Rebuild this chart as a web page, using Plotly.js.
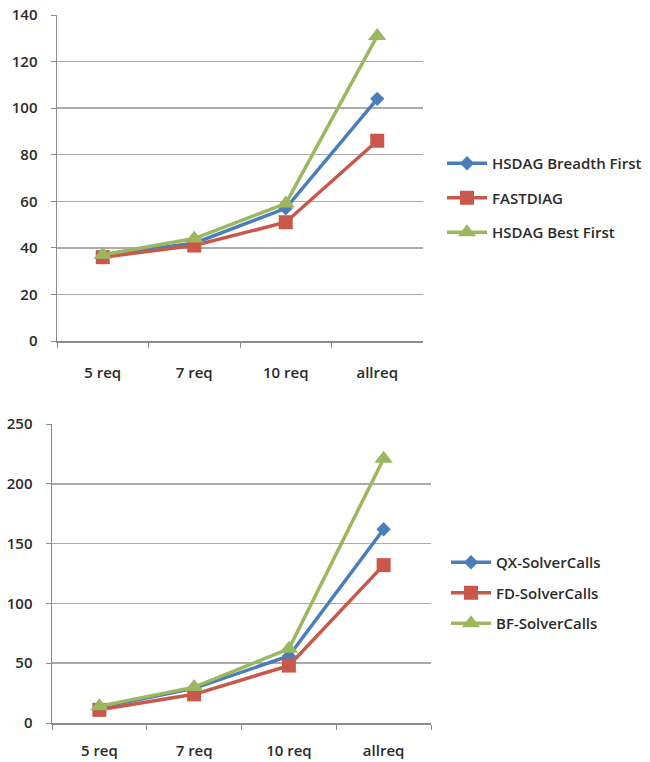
<!DOCTYPE html>
<html>
<head>
<meta charset="utf-8">
<script src="https://cdn.plot.ly/plotly-3.0.1.min.js"></script>
<style>html,body{margin:0;padding:0;background:#fff;}</style>
</head>
<body>
<div id="chart" style="width:650px;height:762px;"></div>
<script>
const categories = ["5 req", "7 req", "10 req", "allreq"];

// Top chart
const hsdagBreadthFirst = [37, 42, 57, 104];
const fastDiag = [36, 41, 51, 86];
const hsdagBestFirst = [37, 44, 59, 131];

// Bottom chart
const qxSolverCalls = [13, 29, 56, 162];
const fdSolverCalls = [11, 24, 48, 132];
const bfSolverCalls = [14, 30, 62, 221];

const topTicks = [0, 20, 40, 60, 80, 100, 120, 140];
const bottomTicks = [0, 50, 100, 150, 200, 250];

const BLUE = "#4A7EBB", RED = "#C9584A", GREEN = "#9BB860";
const FONT = {family: "Open Sans, sans-serif", size: 15, color: "#2b2b2b", weight: 600};

function tr(name, y, color, symbol, size, xa, ya, legend, group) {
  return {
    type: "scatter", mode: "lines+markers", name: name,
    x: categories, y: y, xaxis: xa, yaxis: ya, legend: legend,
    legendgroup: group,
    line: {color: color, width: 3.5},
    marker: {color: color, symbol: symbol, size: size},
    hoverinfo: "skip"
  };
}

const data = [
  tr("HSDAG Breadth First", hsdagBreadthFirst, BLUE, "diamond", 11, "x", "y", "legend", "a"),
  tr("FASTDIAG", fastDiag, RED, "square", 14, "x", "y", "legend", "b"),
  tr("HSDAG Best First", hsdagBestFirst, GREEN, "triangle-up", 16, "x", "y", "legend", "c"),
  tr("QX-SolverCalls", qxSolverCalls, BLUE, "diamond", 11, "x2", "y2", "legend2", "d"),
  tr("FD-SolverCalls", fdSolverCalls, RED, "square", 14, "x2", "y2", "legend2", "e"),
  tr("BF-SolverCalls", bfSolverCalls, GREEN, "triangle-up", 16, "x2", "y2", "legend2", "f")
];

const xCommon = {
  type: "category", range: [-0.5, 3.5], showgrid: false, showline: true, linecolor: "#8c8c8c", linewidth: 1.5,
  ticks: "outside", tickson: "boundaries", ticklen: 5, tickcolor: "#8c8c8c",
  tickfont: FONT, zeroline: false, fixedrange: true
};
const yCommon = {
  showgrid: true, gridcolor: "#ababab", gridwidth: 1.5, showline: true, linecolor: "#8c8c8c", linewidth: 1.5,
  ticks: "outside", ticklen: 5, tickcolor: "#8c8c8c", tickfont: FONT, zeroline: false,
  fixedrange: true, ticklabelstandoff: 10
};

const layout = {
  width: 650, height: 762,
  margin: {l: 0, r: 0, t: 0, b: 0},
  paper_bgcolor: "#fff", plot_bgcolor: "#fff",
  showlegend: true,
  font: FONT,
  xaxis: Object.assign({}, xCommon, {domain: [57/650, 423/650], anchor: "y", ticklabelstandoff: 17}),
  yaxis: Object.assign({}, yCommon, {domain: [(762-341)/762, (762-15)/762], anchor: "x",
    range: [0, 140], tickvals: topTicks}),
  xaxis2: Object.assign({}, xCommon, {domain: [52/650, 431/650], anchor: "y2", ticklabelstandoff: 13}),
  yaxis2: Object.assign({}, yCommon, {domain: [(762-723)/762, (762-424)/762], anchor: "x2",
    range: [0, 250], tickvals: bottomTicks}),
  legend: {x: 442/650, y: 1 - 147/762, xanchor: "left", yanchor: "top",
    font: FONT, itemwidth: 40, tracegroupgap: 12, bgcolor: "rgba(0,0,0,0)"},
  legend2: {x: 446/650, y: 1 - 546/762, xanchor: "left", yanchor: "top",
    font: FONT, itemwidth: 40, tracegroupgap: 8, bgcolor: "rgba(0,0,0,0)"}
};

Plotly.newPlot("chart", data, layout, {staticPlot: true, displayModeBar: false});
</script>
</body>
</html>
